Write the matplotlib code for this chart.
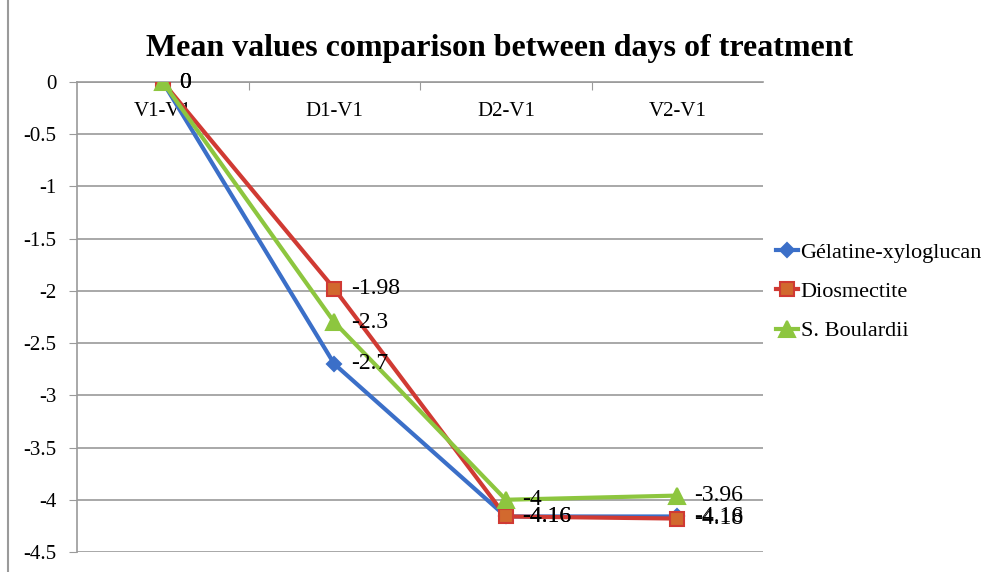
import matplotlib.pyplot as plt
from matplotlib.lines import Line2D

categories = ['V1-V1', 'D1-V1', 'D2-V1', 'V2-V1']
gelatine = [0, -2.7, -4.16, -4.16]
diosmectite = [0, -1.98, -4.16, -4.18]
boulardii = [0, -2.3, -4, -3.96]
yticks = [0, -0.5, -1, -1.5, -2, -2.5, -3, -3.5, -4, -4.5]

plt.rcParams['font.family'] = ['Liberation Serif', 'DejaVu Serif']


def main():
    fig = plt.figure(figsize=(9.9, 5.72), dpi=100)
    ax = fig.add_axes([0.0778, 0.035, 0.693, 0.8216])

    x = list(range(len(categories)))
    series = [
        ('Gélatine-xyloglucan', gelatine, '#3B6FC8', 'D', '#3B6FC8', '#3B6FC8', 7),
        ('Diosmectite', diosmectite, '#D03A33', 's', '#D2692E', '#D03A33', 10),
        ('S. Boulardii', boulardii, '#8DC63F', '^', '#8DC63F', '#8DC63F', 11),
    ]
    for name, vals, col, mk, fc, ec, ms in series:
        ax.plot(x, vals, color=col, lw=3, marker=mk, markersize=ms,
                markerfacecolor=fc, markeredgecolor=ec, markeredgewidth=1.5,
                label=name, zorder=3)
        for xi, v in zip(x, vals):
            ax.annotate('%g' % v, (xi, v), xytext=(12, 0), textcoords='offset points',
                        va='center', ha='left', fontsize=17, zorder=4)

    ax.set_xlim(-0.5, 3.5)
    ax.set_ylim(-4.5, 0)
    ax.set_yticks(yticks)
    ax.set_yticklabels(['%g' % t for t in yticks], fontsize=15)
    ax.yaxis.grid(True, color='#9a9a9a', lw=1.2)
    ax.tick_params(axis='y', length=6, color='#9a9a9a', pad=9)

    ax.xaxis.set_ticks_position('top')
    ax.set_xticks([0.5, 1.5, 2.5])
    ax.set_xticklabels([])
    ax.tick_params(axis='x', direction='in', length=6, color='#9a9a9a')
    for xi, c in zip(x, categories):
        ax.text(xi, -0.19, c, ha='center', va='top', fontsize=15, zorder=2)

    for s in ['right', 'bottom']:
        ax.spines[s].set_visible(False)
    ax.spines['left'].set_color('#9a9a9a')
    ax.spines['left'].set_linewidth(1.2)
    ax.spines['top'].set_color('#9a9a9a')
    ax.spines['top'].set_linewidth(1.2)

    fig.text(0.505, 0.915, 'Mean values comparison between days of treatment',
             ha='center', va='center', fontsize=23, fontweight='bold')

    fig.add_artist(Line2D([0.008, 0.008], [0, 1], color='#9a9a9a', lw=1.5))

    fig.legend(loc='center left', bbox_to_anchor=(0.775, 0.49), frameon=False,
               fontsize=16, handlelength=1.0, handletextpad=0.1, labelspacing=0.85,
               borderaxespad=0)

    fig.savefig('out.png', dpi=100)


if __name__ == '__main__':
    main()
